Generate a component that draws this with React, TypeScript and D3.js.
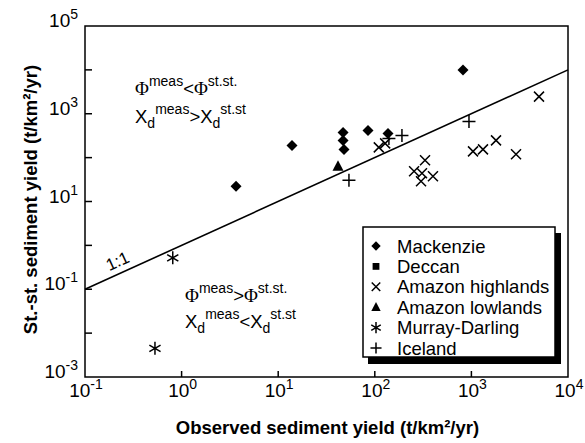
import React from "react";
import * as d3 from "d3";

// ---- data (observed, steady-state) in t/km2/yr ----
const mackenzieX = [3.66, 13.9, 46.9, 46.9, 48, 85, 137, 819];
const mackenzieY = [22.3, 190, 375, 247, 154, 416, 356, 10000];
const deccanX: number[] = [];
const deccanY: number[] = [];
const amazonHighX = [110, 128, 5010, 1039, 1318, 1798, 2897, 331, 255, 308, 301, 400];
const amazonHighY = [171, 211, 2455, 139, 154, 247, 119, 87, 49, 44, 29, 37.7];
const amazonLowX = [41.6];
const amazonLowY = [63.5];
const murrayX = [0.81, 0.53];
const murrayY = [0.52, 0.0045];
const icelandX = [54, 140, 191, 944];
const icelandY = [30.6, 274, 320, 666];

const legendLabels = ["Mackenzie", "Deccan", "Amazon highlands", "Amazon lowlands", "Murray-Darling", "Iceland"];
const xTickExps = [-1, 0, 1, 2, 3, 4];
const yLabelExps = [5, 3, 1, -1, -3];
const yTickExps = [-2, -1, 0, 1, 2, 3, 4];

const W = 585, H = 443;
const left = 85, right = 568, top = 26, bottom = 377;
const SANS = "'Liberation Sans', Arial, sans-serif";
const SERIF = "'Liberation Serif', 'Times New Roman', serif";

const x = d3.scaleLog().domain([0.1, 1e4]).range([left, right]);
const y = d3.scaleLog().domain([1e-3, 1e5]).range([bottom, top]);

type Kind = "diamond" | "square" | "x" | "triangle" | "star" | "plus";

function Marker({ kind, cx, cy, s = 1 }: { kind: Kind; cx: number; cy: number; s?: number }) {
  const t = `translate(${cx},${cy}) scale(${s})`;
  const sw = 1.5 / s;
  switch (kind) {
    case "diamond":
      return <path transform={t} d="M0,-5.5L5.5,0L0,5.5L-5.5,0Z" fill="#000" />;
    case "square":
      return <path transform={t} d="M-4,-4H4V4H-4Z" fill="#000" />;
    case "triangle":
      return <path transform={t} d="M0,-6L5.5,4.5L-5.5,4.5Z" fill="#000" />;
    case "x":
      return <path transform={t} d="M-5,-5L5,5M-5,5L5,-5" stroke="#000" strokeWidth={sw} fill="none" />;
    case "plus":
      return <path transform={t} d="M-6.5,0H6.5M0,-6.5V6.5" stroke="#000" strokeWidth={sw} fill="none" />;
    case "star":
      return (
        <path
          transform={t}
          d="M0,-6.5V6.5M-5.6,-3.25L5.6,3.25M-5.6,3.25L5.6,-3.25"
          stroke="#000"
          strokeWidth={sw}
          fill="none"
        />
      );
  }
}

const series: { kind: Kind; xs: number[]; ys: number[] }[] = [
  { kind: "diamond", xs: mackenzieX, ys: mackenzieY },
  { kind: "square", xs: deccanX, ys: deccanY },
  { kind: "x", xs: amazonHighX, ys: amazonHighY },
  { kind: "triangle", xs: amazonLowX, ys: amazonLowY },
  { kind: "star", xs: murrayX, ys: murrayY },
  { kind: "plus", xs: icelandX, ys: icelandY },
];

export default function App() {
  const oneLine = d3.line<number>().x((v) => x(v)).y((v) => y(v));
  const angle = (Math.atan2(y(1e4) - y(0.1), x(1e4) - x(0.1)) * 180) / Math.PI;

  const legX = 363, legY = 227, legW = 192, legH = 130;
  const rowH = 20.4;

  return (
    <svg width={W} height={H} style={{ display: "block", position: "absolute", left: 0, top: 0 }}>
      <rect width={W} height={H} fill="#fff" />
      {/* 1:1 line */}
      <path d={oneLine([0.1, 1e4]) || ""} stroke="#000" strokeWidth={1.6} fill="none" />
      <text
        transform={`translate(${x(0.23)},${y(0.23) - 7}) rotate(${angle})`}
        fontFamily={SANS}
        fontSize={17}
        textAnchor="middle"
      >
        1:1
      </text>

      {/* frame */}
      <rect x={left} y={top} width={right - left} height={bottom - top} fill="none" stroke="#000" strokeWidth={1.5} />
      {/* ticks */}
      {xTickExps.slice(1, -1).map((e) => (
        <line key={"xt" + e} x1={x(10 ** e)} x2={x(10 ** e)} y1={bottom} y2={bottom - 6} stroke="#000" strokeWidth={1.5} />
      ))}
      {yTickExps.map((e) => (
        <line key={"yt" + e} x1={left} x2={left + 7} y1={y(10 ** e)} y2={y(10 ** e)} stroke="#000" strokeWidth={1.5} />
      ))}
      {/* tick labels */}
      {xTickExps.map((e) => (
        <text key={"xl" + e} x={x(10 ** e) + 1} y={bottom + 20} fontFamily={SANS} fontSize={19} textAnchor="middle">
          10<tspan fontSize={14} dy={-8}>{e}</tspan>
        </text>
      ))}
      {yLabelExps.map((e) => (
        <text key={"yl" + e} x={78} y={y(10 ** e) + 1} fontFamily={SANS} fontSize={19} textAnchor="end">
          10<tspan fontSize={14} dy={-8}>{e}</tspan>
        </text>
      ))}

      {/* axis titles */}
      <text x={(left + right) / 2 + 1} y={434} fontFamily={SANS} fontSize={18.5} fontWeight="bold" textAnchor="middle">
        Observed sediment yield (t/km²/yr)
      </text>
      <text
        transform={`translate(37,${(top + bottom) / 2 - 2}) rotate(-90)`}
        fontFamily={SANS}
        fontSize={18.5}
        fontWeight="bold"
        textAnchor="middle"
      >
        St.-st. sediment yield (t/km²/yr)
      </text>

      {/* annotations */}
      <g fontFamily={SANS} fontSize={18.5}>
        <text x={135} y={95}>
          <tspan fontFamily={SERIF} fontSize={19}>Φ</tspan>
          <tspan fontSize={14} dy={-9}>meas</tspan>
          <tspan dy={9}>&lt;</tspan>
          <tspan fontFamily={SERIF} fontSize={19}>Φ</tspan>
          <tspan fontSize={14} dy={-9}>st.st.</tspan>
        </text>
        <text x={135} y={123}>
          X<tspan fontSize={14} dy={5}>d</tspan>
          <tspan fontSize={14} dy={-14}>meas</tspan>
          <tspan dy={9}>&gt;</tspan>X<tspan fontSize={14} dy={5}>d</tspan>
          <tspan fontSize={14} dy={-14}>st.st</tspan>
        </text>
        <text x={185} y={302}>
          <tspan fontFamily={SERIF} fontSize={19}>Φ</tspan>
          <tspan fontSize={14} dy={-9}>meas</tspan>
          <tspan dy={9}>&gt;</tspan>
          <tspan fontFamily={SERIF} fontSize={19}>Φ</tspan>
          <tspan fontSize={14} dy={-9}>st.st.</tspan>
        </text>
        <text x={185} y={328}>
          X<tspan fontSize={14} dy={5}>d</tspan>
          <tspan fontSize={14} dy={-14}>meas</tspan>
          <tspan dy={9}>&lt;</tspan>X<tspan fontSize={14} dy={5}>d</tspan>
          <tspan fontSize={14} dy={-14}>st.st</tspan>
        </text>
      </g>

      {/* data */}
      {series.map((s) =>
        s.xs.map((v, i) => <Marker key={s.kind + i} kind={s.kind} cx={x(v)} cy={y(s.ys[i])} />)
      )}

      {/* legend */}
      <rect x={legX + 5} y={legY + 6} width={legW + 1} height={legH + 1} fill="#000" />
      <rect x={legX} y={legY} width={legW} height={legH} fill="#fff" stroke="#000" strokeWidth={1.5} />
      {legendLabels.map((lab, i) => {
        const cy = legY + 19 + i * rowH;
        return (
          <g key={lab}>
            <Marker kind={series[i].kind} cx={legX + 13} cy={cy} s={0.85} />
            <text x={legX + 34} y={cy + 6.5} fontFamily={SANS} fontSize={18.5}>
              {lab}
            </text>
          </g>
        );
      })}
    </svg>
  );
}
